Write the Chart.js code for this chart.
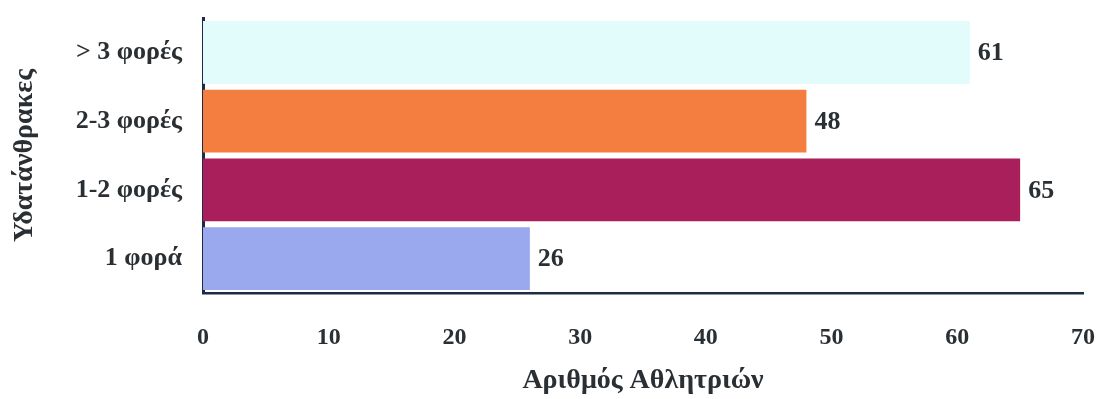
<!DOCTYPE html>
<html>
<head>
<meta charset="utf-8">
<script src="https://cdn.jsdelivr.net/npm/chart.js@4"></script>
<style>
  html, body { margin: 0; padding: 0; background: #ffffff; }
  #box { width: 1101px; height: 399px; }
</style>
</head>
<body>
<div id="box"><canvas id="grafico" width="1101" height="399"></canvas></div>
<script>
/* ================= DADOS ================= */

const categorias = ["> 3 φορές", "2-3 φορές", "1-2 φορές", "1 φορά"];
const valores = [61, 48, 65, 26];
const ticksX = [0, 10, 20, 30, 40, 50, 60, 70];
const tituloX = "Αριθμός Αθλητριών";
const tituloY = "Υδατάνθρακες";

const coresBarras = ["#e2fbfb", "#f47d40", "#a81f5c", "#9aa8ee"];

/* ================= ESTILO ================= */

const fonte = "'Liberation Serif', 'Times New Roman', serif";
const corTexto = "#2a2f33";
const corEixo = "#1f2a44";

/* ================= RÓTULOS ================= */

const rotulosValores = {
  id: "rotulosValores",
  afterDatasetsDraw(chart) {
    const ctx = chart.ctx;
    const meta = chart.getDatasetMeta(0);
    ctx.save();
    ctx.font = "bold 26px " + fonte;
    ctx.fillStyle = corTexto;
    ctx.textAlign = "left";
    ctx.textBaseline = "middle";
    meta.data.forEach((barra, i) => {
      ctx.fillText(String(valores[i]), barra.x + 8, barra.y + 1);
    });
    ctx.restore();
  }
};

/* ================= GRÁFICO ================= */

// tickLength no lugar de ticks.padding: o padding entra na margem da área do gráfico
new Chart(document.getElementById("grafico"), {
  type: "bar",
  data: {
    labels: categorias,
    datasets: [{
      data: valores,
      backgroundColor: coresBarras,
      borderWidth: 0,
      barPercentage: 0.91,
      categoryPercentage: 1
    }]
  },
  options: {
    indexAxis: "y",
    responsive: false,
    animation: false,
    layout: { padding: { top: 18, right: 18, left: 0, bottom: 0 } },
    plugins: {
      legend: { display: false },
      tooltip: { enabled: false }
    },
    scales: {
      x: {
        min: 0,
        max: 70,
        afterBuildTicks: (scale) => {
          scale.ticks = ticksX.map(v => ({ value: v }));
        },
        afterFit: (scale) => { scale.height = 106; },
        grid: { display: false, drawTicks: true, tickLength: 30 },
        border: { display: true, color: corEixo, width: 2.5 },
        ticks: {
          padding: 0,
          color: corTexto,
          font: { family: fonte, size: 24, weight: "bold" }
        },
        title: {
          display: true,
          text: tituloX,
          color: corTexto,
          padding: { top: 0, bottom: 1 },
          font: { family: fonte, size: 28, weight: "bold" }
        }
      },
      y: {
        afterFit: (scale) => { scale.width = 203; },
        grid: { display: false, drawTicks: true, tickLength: 21 },
        border: { display: true, color: corEixo, width: 3 },
        ticks: {
          padding: 0,
          color: corTexto,
          font: { family: fonte, size: 26, weight: "bold" }
        },
        title: {
          display: true,
          text: tituloY,
          color: corTexto,
          padding: { top: 8, bottom: 0 },
          font: { family: fonte, size: 28, weight: "bold" }
        }
      }
    }
  },
  plugins: [rotulosValores]
});
</script>
</body>
</html>
